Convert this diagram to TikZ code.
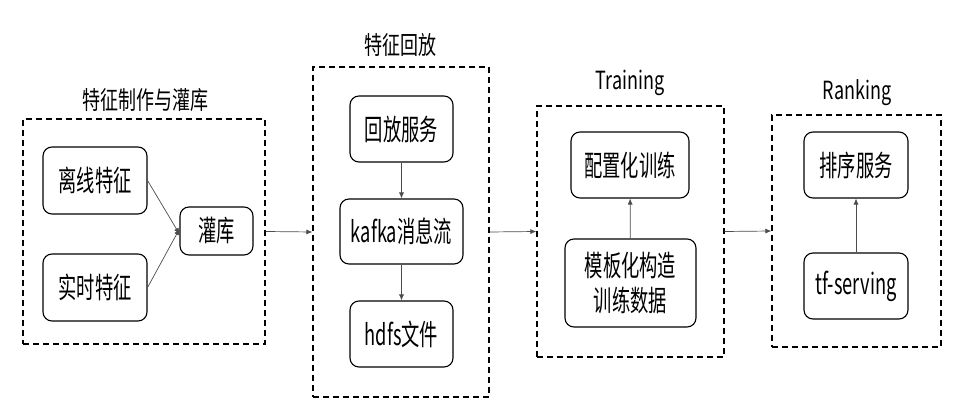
\documentclass[tikz,border=0pt]{standalone}
\usepackage{fontspec}
\setmainfont{Noto Sans CJK SC}
\newfontfamily\boxfont{Noto Sans CJK SC}[FakeStretch=0.63]
\newfontfamily\titlefont{Noto Sans CJK SC}[FakeStretch=0.72]
\usetikzlibrary{arrows.meta}
\tikzset{
  group/.style={draw, dashed, line width=1.2pt, dash pattern=on 6pt off 4pt, inner sep=0pt},
  box/.style={draw, rounded corners=9pt, line width=1.1pt, inner sep=0pt, align=center,
    font=\boxfont\fontsize{29}{35}\selectfont},
  title/.style={font=\titlefont\fontsize{25}{28}\selectfont},
  flow/.style={-{Latex[length=6pt,width=5pt]}, draw=black!70, line width=0.7pt}
}
\begin{document}
\begin{tikzpicture}[x=1pt, y=-1pt]
			\useasboundingbox (0,0) rectangle (962,411);
			% groups
			\node[group, minimum width=242pt, minimum height=225pt] (g1) at (144,231.5) {};
			\node[group, minimum width=176pt, minimum height=330pt] (g2) at (401,232) {};
			\node[group, minimum width=187pt, minimum height=251pt] (g3) at (630.5,231.5) {};
			\node[group, minimum width=169pt, minimum height=232pt] (g4) at (856.5,231) {};
			\node[title] (t1) at (145,100) {特征制作与灌库};
			\node[title] (t2) at (400,45) {特征回放};
			\node[title] (t3) at (630,83) {Training};
			\node[title] (t4) at (857,93) {Ranking};
			% feature boxes
			\node[box, minimum width=104pt, minimum height=67pt] (lx) at (95,180.5) {离线特征};
			\node[box, minimum width=104pt, minimum height=67pt] (ss) at (95,287.5) {实时特征};
			\node[box, minimum width=73pt, minimum height=48pt] (gk) at (216.5,231) {灌库};
			\node[box, minimum width=103pt, minimum height=66pt] (hf) at (401.5,129) {回放服务};
			\node[box, minimum width=123pt, minimum height=65pt] (kf) at (401.5,231.5) {kafka消息流};
			\node[box, minimum width=103pt, minimum height=66pt] (hd) at (401.5,334) {hdfs文件};
			\node[box, minimum width=118pt, minimum height=66pt] (pz) at (630,165) {配置化训练};
			\node[box, minimum width=131pt, minimum height=88pt] (mb) at (630.5,283) {模板化构造\\训练数据};
			\node[box, minimum width=104pt, minimum height=66pt] (px) at (856,165) {排序服务};
			\node[box, minimum width=104pt, minimum height=66pt] (tf) at (856,286) {tf-serving};
			% connectors
			\draw[flow] (lx.east) -- ([yshift=-3pt]gk.west);
			\draw[flow] (ss.east) -- ([yshift=2pt]gk.west);
			\draw[flow] (hf) -- (kf);
			\draw[flow] (kf) -- (hd);
			\draw[flow] (mb) -- (pz);
			\draw[flow] (tf) -- (px);
			\draw[flow] (g1.east) -- (g2.west);
			\draw[flow] (g2.east) -- (g3.west);
			\draw[flow] (g3.east) -- (g4.west);
		\end{tikzpicture}
\end{document}
